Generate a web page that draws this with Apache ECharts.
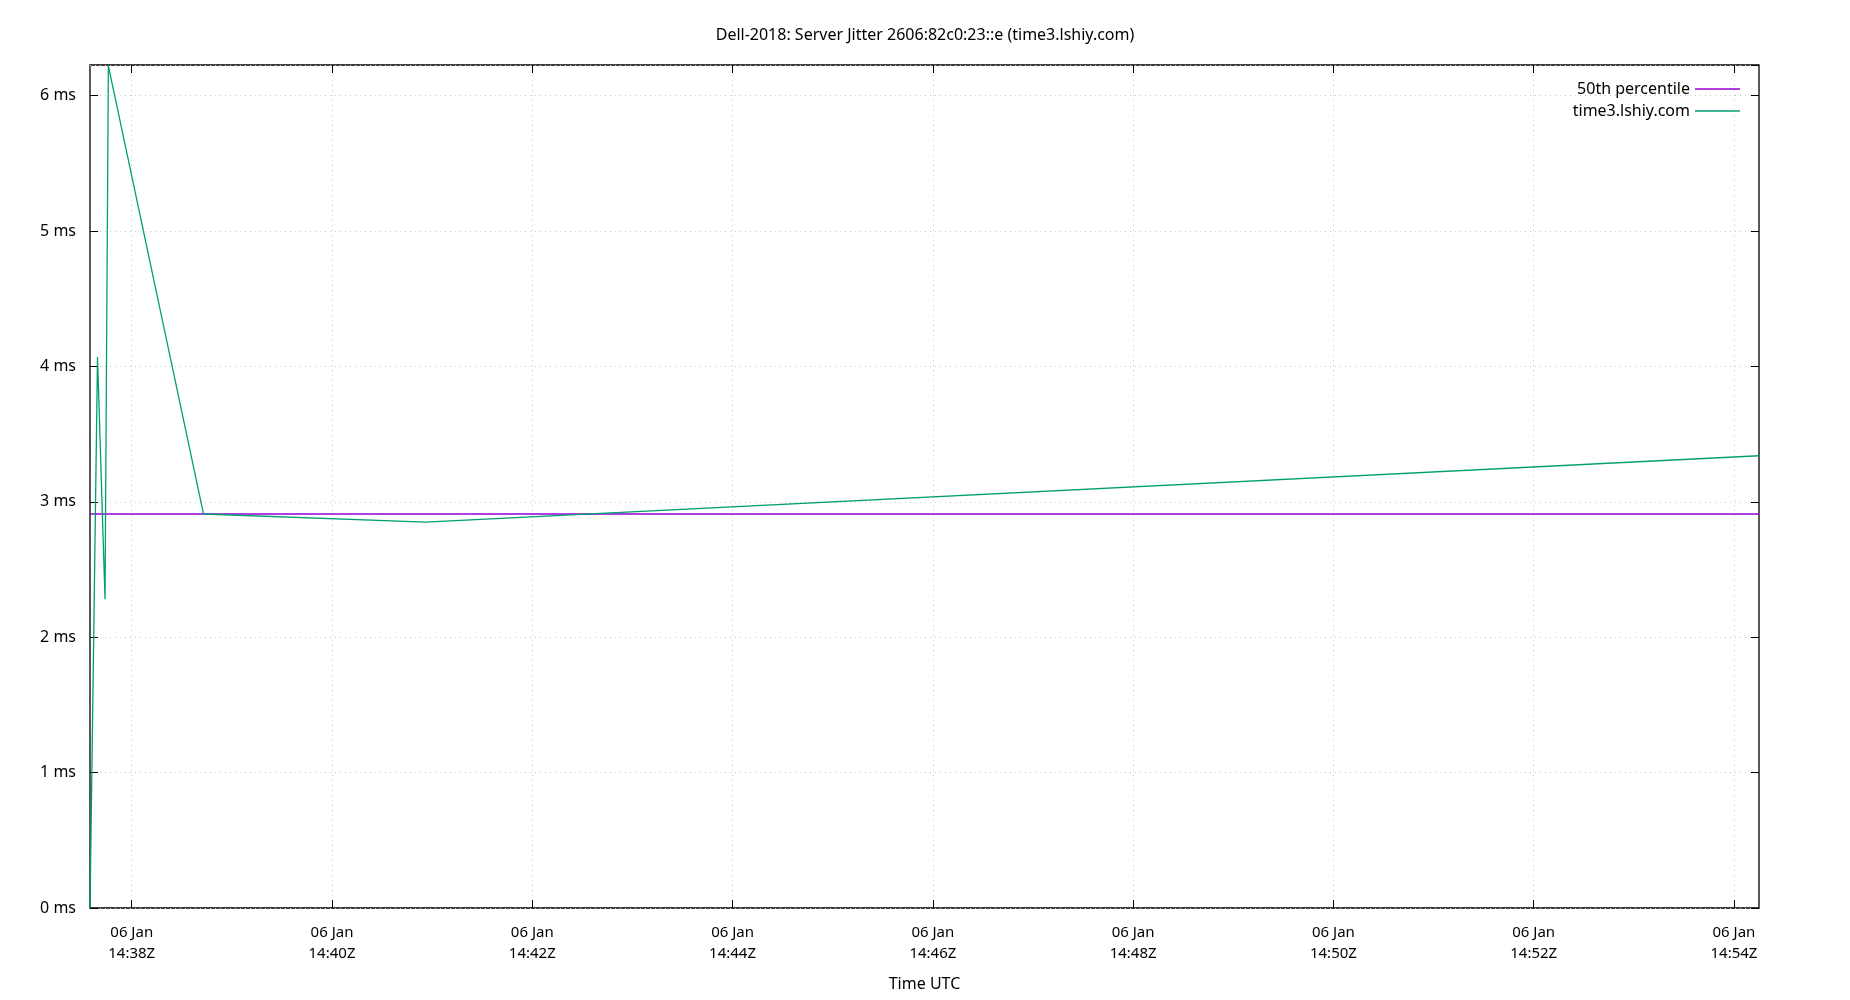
<!DOCTYPE html>
<html>
<head>
<meta charset="utf-8">
<script src="https://cdn.jsdelivr.net/npm/echarts@6/dist/echarts.min.js"></script>
<style>html,body{margin:0;padding:0;background:#fff}#chart{width:1850px;height:1000px}</style>
</head>
<body>
<div id="chart"></div>
<script>
// seconds relative to 06 Jan 14:38:00Z
var jitterTimes = [-25, -20.5, -16, -14, 43, 176, 975];
var jitterValues = [0, 4.07, 2.28, 6.22, 2.91, 2.85, 3.34];
var medianValue = 2.91;
var tickSeconds = [0, 120, 240, 360, 480, 600, 720, 840, 960];
var xMin = -25, xMax = 975;

var myChart = echarts.init(document.getElementById('chart'));
var font = 'Noto Sans';

function timeLabel(s) {
    var m = 38 + Math.round(s / 60);
    var h = 14 + Math.floor(m / 60);
    m = m % 60;
    return '06 Jan\n' + h + ':' + (m < 10 ? '0' + m : m) + 'Z';
}

var jitterData = jitterTimes.map(function (t, i) { return [t, jitterValues[i]]; });
var medianData = [[xMin, medianValue], [xMax, medianValue]];

var option = {
    animation: false,
    textStyle: { fontFamily: font },
    title: {
        text: 'Dell-2018: Server Jitter 2606:82c0:23::e (time3.lshiy.com)',
        left: 'center',
        top: 22,
        textStyle: { fontFamily: font, fontSize: 16, fontWeight: 'normal', color: '#000' }
    },
    legend: {
        right: 105,
        top: 76,
        orient: 'vertical',
        align: 'right',
        itemGap: 6,
        itemWidth: 45,
        itemHeight: 1.5,
        icon: 'rect',
        textStyle: { fontFamily: font, fontSize: 16, color: '#000' },
        data: ['50th percentile', 'time3.lshiy.com']
    },
    grid: {
        left: 90, right: 91, top: 65, bottom: 92,
        show: true, borderColor: '#000', borderWidth: 1.3
    },
    xAxis: [{
        type: 'value', min: xMin, max: xMax,
        name: 'Time UTC', nameLocation: 'middle', nameGap: 68,
        nameTextStyle: { fontFamily: font, fontSize: 16, color: '#000' },
        axisLine: { show: false, onZero: false },
        axisTick: { inside: true, length: 8, customValues: tickSeconds, lineStyle: { color: '#000' } },
        axisLabel: { customValues: tickSeconds, formatter: timeLabel, margin: 14, lineHeight: 21,
            fontFamily: font, fontSize: 15, color: '#000' },
        splitLine: { show: true, lineStyle: { color: '#c8c8c8', type: [1, 4] } }
    }, {
        type: 'value', min: xMin, max: xMax, position: 'top',
        axisLine: { show: false, onZero: false },
        axisTick: { inside: true, length: 8, customValues: tickSeconds, lineStyle: { color: '#000' } },
        axisLabel: { show: false, customValues: tickSeconds }, splitLine: { show: false }
    }],
    yAxis: [{
        type: 'value', min: 0, max: 6.226, interval: 1,
        axisLine: { show: false, onZero: false },
        axisTick: { inside: true, length: 8, lineStyle: { color: '#000' } },
        axisLabel: { formatter: function (v) { return Math.round(v) === v ? v + ' ms' : ''; },
            showMaxLabel: false, margin: 14, fontFamily: font, fontSize: 16, color: '#000' },
        splitLine: { show: true, lineStyle: { color: '#c8c8c8', type: [1, 4] } }
    }, {
        type: 'value', min: 0, max: 6.226, interval: 1, position: 'right',
        axisLine: { show: false, onZero: false },
        axisTick: { inside: true, length: 8, lineStyle: { color: '#000' } },
        axisLabel: { show: false }, splitLine: { show: false }
    }],
    series: [{
        name: '50th percentile',
        type: 'line',
        data: medianData,
        showSymbol: false,
        color: '#9400d3',
        lineStyle: { width: 1.3, color: '#9400d3' }
    }, {
        name: 'time3.lshiy.com',
        type: 'line',
        data: jitterData,
        showSymbol: false,
        color: '#009e73',
        lineStyle: { width: 1.3, color: '#009e73' }
    }]
};
myChart.setOption(option);
</script>
</body>
</html>
